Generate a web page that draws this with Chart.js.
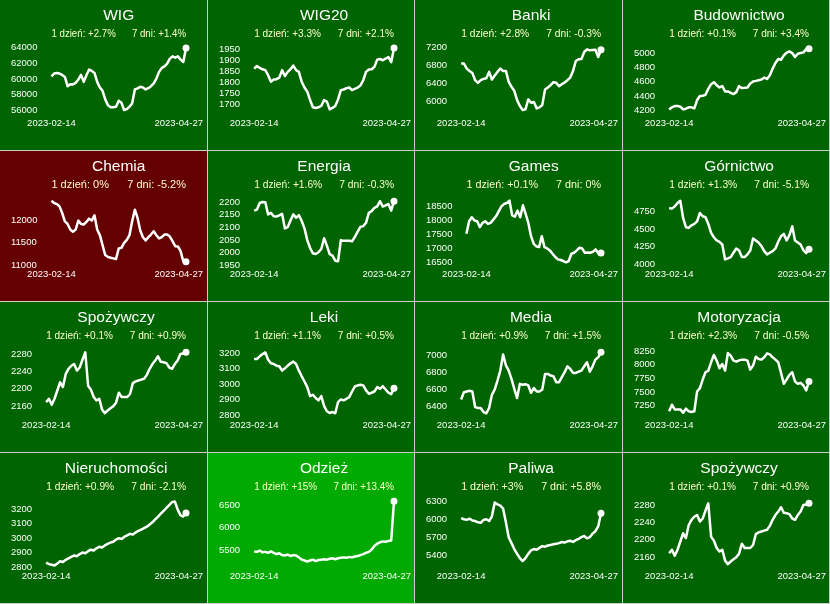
<!DOCTYPE html>
<html lang="pl">
<head>
  <meta charset="UTF-8">
  <title>Indeksy sektorowe GPW</title>
  <script src="https://cdn.jsdelivr.net/npm/chart.js"></script>
  <style>
    html, body {
      margin: 0;
      padding: 0;
      background: #006400;
    }
    #grid {
      display: grid;
      grid-template-columns: repeat(4, 207.5px);
      grid-template-rows: repeat(4, 151px);
      width: 830px;
      height: 604px;
    }
    .cell {
      position: relative;
      box-sizing: border-box;
      border-right: 1px solid #cccccc;
      border-bottom: 1px solid #cccccc;
      overflow: hidden;
    }
    .cell canvas {
      position: absolute;
      left: 0;
      top: 0;
    }
  </style>
</head>
<body>
  <div id="grid"></div>

  <script>
    // sesje od 2023-02-14 do 2023-04-27
    const dates = [
      '2023-02-14','2023-02-15','2023-02-16','2023-02-17','2023-02-20','2023-02-21','2023-02-22','2023-02-23','2023-02-24','2023-02-27','2023-02-28',
      '2023-03-01','2023-03-02','2023-03-03','2023-03-06','2023-03-07','2023-03-08','2023-03-09','2023-03-10','2023-03-13','2023-03-14','2023-03-15',
      '2023-03-16','2023-03-17','2023-03-20','2023-03-21','2023-03-22','2023-03-23','2023-03-24','2023-03-27','2023-03-28','2023-03-29','2023-03-30',
      '2023-03-31','2023-04-03','2023-04-04','2023-04-05','2023-04-06','2023-04-11','2023-04-12','2023-04-13','2023-04-14','2023-04-17','2023-04-18',
      '2023-04-19','2023-04-20','2023-04-21','2023-04-24','2023-04-25','2023-04-26','2023-04-27'
    ];

    const names = ['WIG', 'WIG20', 'Banki', 'Budownictwo', 'Chemia', 'Energia', 'Games', 'Górnictwo',
                   'Spożywczy', 'Leki', 'Media', 'Motoryzacja', 'Nieruchomości', 'Odzież', 'Paliwa', 'Spożywczy'];
    const change1d = ['+2.7%', '+3.3%', '+2.8%', '+0.1%', '0%', '+1.6%', '+0.1%', '+1.3%',
                      '+0.1%', '+1.1%', '+0.9%', '+2.3%', '+0.9%', '+15%', '+3%', '+0.1%'];
    const change7d = ['+1.4%', '+2.1%', '-0.3%', '+3.4%', '-5.2%', '-0.3%', '0%', '-5.1%',
                      '+0.9%', '+0.5%', '+1.5%', '-0.5%', '-2.1%', '+13.4%', '+5.8%', '+0.9%'];

    const wig = [60330,60670,60750,60670,60500,60250,59080,59330,59300,59500,59920,60500,59620,60460,61170,61000,60750,59620,58920,58500,57420,56670,56420,56420,56500,57250,57000,56080,56200,56500,56920,58670,58800,59000,58920,58670,58830,59080,59420,60040,60880,61380,61580,61920,62540,62830,62670,62830,62420,62130,63880];
    const wig20 = [1864,1876,1867,1861,1857,1834,1804,1814,1816,1823,1857,1830,1849,1861,1878,1857,1849,1804,1778,1759,1721,1688,1685,1688,1694,1721,1714,1679,1685,1694,1724,1766,1769,1775,1778,1766,1772,1778,1787,1811,1849,1860,1861,1872,1905,1908,1902,1909,1917,1893,1958];
    const banki = [6842,6842,6730,6678,6633,6469,6410,6469,6499,6514,6656,6484,6574,6656,6730,6678,6678,6432,6320,6231,6022,5888,5799,5814,6037,5963,5978,5836,5858,5911,6261,6305,6358,6425,6410,6335,6380,6417,6469,6529,6678,6901,6939,6946,7103,7162,7140,7147,7155,6991,7155];
    const budownictwo = [4209,4238,4256,4256,4247,4209,4219,4238,4238,4224,4341,4398,4402,4416,4501,4567,4595,4553,4520,4539,4464,4464,4445,4426,4454,4539,4511,4515,4520,4576,4605,4614,4624,4633,4661,4642,4694,4788,4868,4925,4915,4976,5014,5033,5009,4953,5000,5009,5019,5066,5071];
    const chemia = [12437,12386,12363,12312,12163,11978,11919,11793,11741,11793,11993,11919,11904,11963,12037,11993,12111,11793,11667,11445,11222,11178,11163,11148,11133,11370,11385,11496,11563,11667,11978,12237,12052,11770,11622,11548,11622,11681,11756,11667,11593,11622,11681,11681,11637,11533,11422,11415,11311,11078,11074];
    const energia = [2166,2170,2196,2200,2199,2151,2157,2144,2143,2147,2153,2096,2101,2127,2151,2138,2148,2125,2096,2050,2019,1998,1995,2002,2015,2057,2028,1995,1989,1969,1967,2050,2047,2047,2047,2045,2063,2083,2102,2105,2118,2157,2164,2177,2183,2203,2182,2187,2192,2166,2203];
    const games = [17512,17964,18107,17988,17964,17750,17904,17964,17869,17904,18023,18142,18321,18499,18583,18618,18702,18178,18130,18345,18107,18535,18226,17904,17428,17155,17059,17036,17428,17036,16988,16917,16798,16679,16595,16571,16536,16488,16536,16798,16833,16917,17012,16988,16833,16845,16833,16869,16952,16805,16821];
    const gornictwo = [4797,4788,4820,4867,4900,4656,4525,4516,4553,4572,4609,4727,4680,4666,4572,4445,4384,4338,4319,4281,4070,4084,4103,4164,4225,4197,4103,4103,4141,4197,4366,4338,4305,4258,4188,4141,4164,4188,4225,4319,4398,4431,4338,4413,4539,4338,4309,4281,4200,4160,4215];
    const spozywczy = [2169,2177,2163,2177,2196,2215,2204,2234,2246,2253,2257,2242,2249,2267,2284,2207,2198,2181,2173,2177,2152,2144,2150,2155,2160,2168,2191,2181,2181,2181,2188,2213,2217,2219,2221,2223,2232,2246,2257,2265,2275,2262,2261,2259,2249,2246,2257,2265,2280,2281,2284];
    const leki = [3162,3162,3179,3194,3204,3157,3134,3130,3119,3115,3087,3102,3119,3134,3145,3130,3087,3051,3017,2981,2923,2932,2911,2896,2923,2860,2826,2815,2821,2813,2885,2902,2896,2906,2917,2953,2985,2992,2996,2992,2960,2938,2945,2953,2981,2970,2987,2966,2945,2936,2974];
    const media = [6481,6566,6574,6582,6574,6392,6381,6381,6334,6319,6381,6535,6597,6702,6818,7005,6880,6818,6721,6605,6497,6663,6652,6659,6644,6559,6613,6574,6574,6597,6779,6779,6760,6752,6683,6683,6741,6799,6868,6837,6791,6791,6806,6818,6868,6915,6806,6868,6946,6973,7031];
    const motoryzacja = [7140,7262,7176,7176,7176,7115,7189,7140,7127,7140,7508,7569,7729,7864,7894,8048,8183,8078,7937,8017,7894,8219,8170,8078,8060,8084,8097,8097,8078,7913,7986,8152,8109,8097,8140,8213,8195,8140,8097,8048,7851,7649,7729,7814,7864,7692,7649,7667,7618,7526,7692];
    const nieruchomosci = [2830,2820,2815,2810,2825,2840,2835,2850,2860,2870,2880,2875,2890,2900,2895,2910,2920,2915,2930,2940,2935,2950,2960,2970,2975,2990,3000,2995,3010,3020,3030,3025,3040,3050,3060,3070,3080,3095,3110,3130,3150,3170,3190,3210,3230,3250,3255,3200,3160,3150,3175];
    const odziez = [5480,5470,5500,5460,5470,5450,5480,5450,5420,5440,5400,5390,5410,5380,5400,5390,5350,5300,5280,5260,5280,5300,5270,5290,5300,5310,5300,5320,5330,5310,5330,5340,5350,5340,5360,5350,5370,5380,5400,5420,5450,5470,5520,5600,5650,5680,5700,5690,5710,5720,6580];
    const paliwa = [6020,6000,5990,6010,5980,5970,5950,5940,5990,6000,5970,6050,6280,6250,6230,6180,5950,5700,5600,5500,5420,5350,5300,5350,5420,5480,5500,5490,5520,5550,5540,5560,5570,5580,5590,5600,5620,5610,5630,5640,5620,5650,5670,5700,5720,5680,5700,5760,5800,5880,6100];

    const series = [wig, wig20, banki, budownictwo, chemia, energia, games, gornictwo,
                    spozywczy, leki, media, motoryzacja, nieruchomosci, odziez, paliwa, spozywczy];

    // podpisy osi Y
    const yTicks = [
      [56000, 58000, 60000, 62000, 64000],
      [1700, 1750, 1800, 1850, 1900, 1950],
      [6000, 6400, 6800, 7200],
      [4200, 4400, 4600, 4800, 5000],
      [11000, 11500, 12000],
      [1950, 2000, 2050, 2100, 2150, 2200],
      [16500, 17000, 17500, 18000, 18500],
      [4000, 4250, 4500, 4750],
      [2160, 2200, 2240, 2280],
      [2800, 2900, 3000, 3100, 3200],
      [6400, 6600, 6800, 7000],
      [7250, 7500, 7750, 8000, 8250],
      [2800, 2900, 3000, 3100, 3200],
      [5500, 6000, 6500],
      [5400, 5700, 6000, 6300],
      [2160, 2200, 2240, 2280]
    ];

    // zakres osi Y [min, max]
    const yRange = [
      [55455, 64087], [1653, 1965], [5687, 7229], [4129, 5104],
      [10978, 12512], [1948, 2218], [16357, 18820], [3977, 4947],
      [2135, 2293], [2789, 3230], [6276, 7077], [7035, 8305],
      [2793, 3269], [5117, 6620], [5183, 6333], [2135, 2293]
    ];

    const bgColors = [
      '#006400', '#006400', '#006400', '#006400',
      '#640000', '#006400', '#006400', '#006400',
      '#006400', '#006400', '#006400', '#006400',
      '#006400', '#00aa00', '#006400', '#006400'
    ];

    Chart.defaults.font.family = '"Liberation Sans", Arial, sans-serif';
    Chart.defaults.color = '#ffffff';

    // tylko pierwsza i ostatnia data pod wykresem
    const dateLabels = {
      id: 'dateLabels',
      afterDraw(chart) {
        const { ctx, chartArea } = chart;
        const x = chart.scales.x;
        const labels = chart.data.labels;
        const n = labels.length;
        ctx.save();
        ctx.font = '9.5px "Liberation Sans", Arial, sans-serif';
        ctx.fillStyle = '#ffffff';
        ctx.textAlign = 'center';
        ctx.textBaseline = 'middle';
        const w1 = ctx.measureText(labels[0]).width;
        const w2 = ctx.measureText(labels[n - 1]).width;
        const x1 = Math.max(x.getPixelForValue(0), w1 / 2 + 2);
        const x2 = Math.min(x.getPixelForValue(n - 1), chart.width - 3 - w2 / 2);
        ctx.fillText(labels[0], x1, chartArea.bottom + 8.5);
        ctx.fillText(labels[n - 1], x2, chartArea.bottom + 8.5);
        ctx.restore();
      }
    };

    const grid = document.getElementById('grid');

    names.forEach((name, i) => {
      const cell = document.createElement('div');
      cell.className = 'cell';
      cell.style.background = bgColors[i];
      const canvas = document.createElement('canvas');
      canvas.width = 206;
      canvas.height = 150;
      cell.appendChild(canvas);
      grid.appendChild(cell);

      const data = series[i];
      const ticks = yTicks[i];

      new Chart(canvas, {
        type: 'line',
        data: {
          labels: dates,
          datasets: [{
            data: data,
            borderColor: '#ffffff',
            borderWidth: 2.5,
            borderJoinStyle: 'round',
            tension: 0,
            clip: false,
            pointRadius: c => c.dataIndex === data.length - 1 ? 3.5 : 0,
            pointBackgroundColor: '#ffffff',
            pointBorderWidth: 0
          }]
        },
        options: {
          responsive: false,
          animation: false,
          events: [],
          layout: { padding: { left: 11, right: 20, top: 0, bottom: 35 } },
          plugins: {
            legend: { display: false },
            tooltip: { enabled: false },
            title: {
              display: true,
              text: name,
              color: '#ffffff',
              fullSize: false,
              font: { size: 15.5, weight: 'normal' },
              padding: { top: 6, bottom: 2 }
            },
            subtitle: {
              display: true,
              text: '1 dzień: ' + change1d[i] + '      7 dni: ' + change7d[i],
              color: '#ffffcc',
              fullSize: false,
              font: { size: 11.5 },
              padding: { top: 0, bottom: 6 }
            }
          },
          scales: {
            x: { display: false },
            y: {
              min: yRange[i][0],
              max: yRange[i][1],
              afterBuildTicks: scale => { scale.ticks = ticks.map(v => ({ value: v })); },
              grid: { display: false },
              border: { display: false },
              ticks: {
                color: '#ffffff',
                font: { size: 9.5 },
                padding: 3,
                autoSkip: false,
                crossAlign: 'far',
                callback: v => String(v)
              }
            }
          }
        },
        plugins: [dateLabels]
      });
    });
  </script>
</body>
</html>
